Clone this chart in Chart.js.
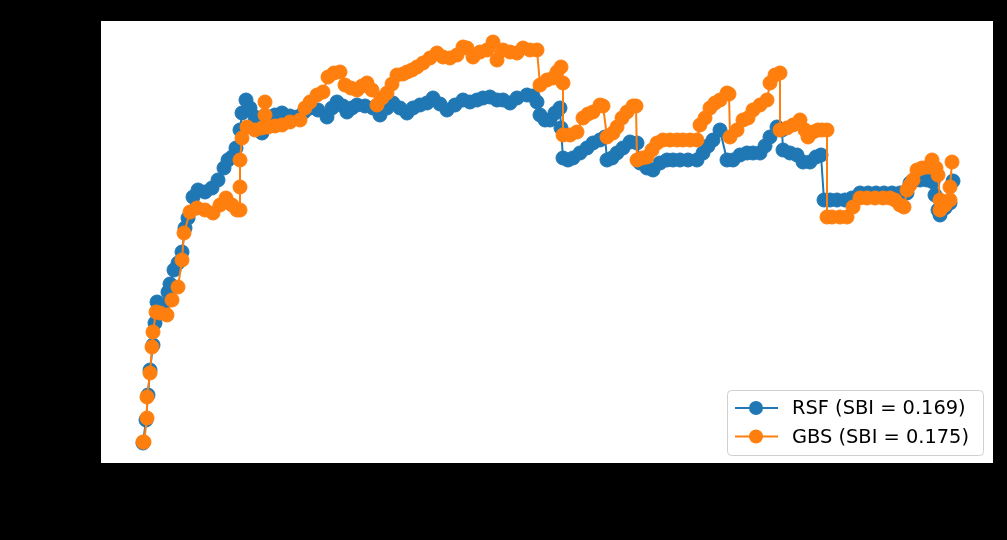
<!DOCTYPE html>
<html>
<head>
<meta charset="utf-8">
<title>RSF vs GBS</title>
<script src="https://cdn.jsdelivr.net/npm/chart.js@4.4.0/dist/chart.umd.min.js"></script>
<style>
  html, body { margin: 0; padding: 0; background: #000; }
  #wrap { width: 1007px; height: 540px; }
</style>
</head>
<body>
<div id="wrap"><canvas id="scoreChart" width="1007" height="540"></canvas></div>
<script>
'use strict';

// series names as shown in the legend
const seriesLabels = ['RSF (SBI = 0.169)', 'GBS (SBI = 0.175)'];

// RSF curve: time and score
const rsfDays = [
  1, 4, 6, 8, 11, 13, 15, 21, 26, 28, 32, 36, 40, 43, 46, 51, 56, 63, 70, 76,
  82, 86, 90, 94, 98, 100, 104, 108, 113, 120, 126, 133, 140, 148, 155, 162, 168, 176, 185, 190,
  195, 201, 205, 210, 215, 223, 231, 238, 245, 251, 258, 265, 271, 278, 285, 291, 298, 305, 313, 321,
  328, 335, 341, 348, 355, 361, 368, 375, 385, 391, 395, 398, 403, 408, 413, 418, 419, 421, 426, 431,
  438, 445, 451, 458, 463, 465, 470, 475, 481, 488, 495, 498, 505, 511, 518, 525, 531, 538, 546, 555,
  561, 566, 571, 578, 585, 591, 598, 605, 611, 618, 623, 628, 635, 640, 641, 648, 655, 661, 668, 674,
  679, 682, 688, 695, 703, 710, 718, 726, 734, 742, 750, 758, 765, 768, 773, 778, 785, 791, 793, 796,
  798, 803, 808, 811
];
const rsfScores = [
  0.520, 0.543, 0.568, 0.593, 0.618, 0.640, 0.661, 0.658, 0.671, 0.679, 0.693, 0.700, 0.711, 0.735, 0.745, 0.766, 0.773, 0.771, 0.775, 0.783,
  0.795, 0.803, 0.806, 0.815, 0.833, 0.850, 0.863, 0.855, 0.846, 0.830, 0.841, 0.848, 0.850, 0.847, 0.846, 0.851, 0.855, 0.853, 0.846, 0.855,
  0.861, 0.857, 0.851, 0.855, 0.858, 0.857, 0.855, 0.848, 0.855, 0.860, 0.855, 0.850, 0.855, 0.858, 0.860, 0.865, 0.859, 0.853, 0.858, 0.863,
  0.861, 0.863, 0.865, 0.866, 0.863, 0.863, 0.860, 0.865, 0.868, 0.867, 0.861, 0.848, 0.843, 0.843, 0.850, 0.855, 0.835, 0.805, 0.803, 0.805,
  0.810, 0.815, 0.820, 0.823, 0.826, 0.803, 0.805, 0.810, 0.815, 0.821, 0.820, 0.800, 0.795, 0.793, 0.800, 0.803, 0.803, 0.803, 0.803, 0.803,
  0.810, 0.817, 0.823, 0.833, 0.803, 0.803, 0.808, 0.810, 0.810, 0.810, 0.817, 0.826, 0.836, 0.833, 0.813, 0.810, 0.808, 0.801, 0.801, 0.806,
  0.808, 0.763, 0.763, 0.763, 0.763, 0.765, 0.770, 0.770, 0.770, 0.770, 0.770, 0.770, 0.770, 0.780, 0.783, 0.783, 0.783, 0.781, 0.768, 0.753,
  0.748, 0.755, 0.760, 0.782
];

// GBS curve: time and score
const gbsDays = [
  1, 2, 5, 5, 8, 10, 11, 14, 18, 25, 30, 36, 40, 42, 48, 55, 63, 71, 78, 84,
  90, 95, 98, 98, 98, 100, 105, 113, 120, 123, 123, 126, 133, 140, 148, 158, 163, 168, 175, 181,
  186, 192, 198, 203, 209, 215, 220, 225, 230, 235, 240, 245, 250, 255, 261, 265, 270, 275, 281, 288,
  295, 301, 308, 315, 321, 325, 331, 338, 345, 351, 355, 361, 368, 375, 381, 388, 395, 398, 405, 411,
  415, 419, 421, 421, 428, 435, 441, 446, 451, 458, 461, 465, 471, 475, 480, 485, 491, 494, 495, 500,
  505, 510, 515, 521, 528, 535, 541, 548, 555, 558, 563, 568, 573, 578, 585, 587, 588, 595, 601, 606,
  611, 618, 625, 628, 633, 638, 638, 645, 651, 658, 663, 666, 671, 676, 680, 685, 685, 690, 698, 705,
  711, 718, 725, 733, 741, 748, 753, 758, 762, 765, 768, 771, 775, 780, 786, 790, 794, 796, 798, 798,
  803, 808, 808, 810
];
const gbsScores = [
  0.521, 0.521, 0.545, 0.566, 0.590, 0.616, 0.631, 0.651, 0.650, 0.648, 0.663, 0.676, 0.703, 0.730, 0.751, 0.755, 0.753, 0.750, 0.758, 0.765,
  0.758, 0.753, 0.753, 0.776, 0.803, 0.825, 0.836, 0.833, 0.835, 0.848, 0.861, 0.836, 0.837, 0.838, 0.841, 0.843, 0.855, 0.861, 0.868, 0.871,
  0.886, 0.890, 0.891, 0.878, 0.875, 0.873, 0.877, 0.880, 0.873, 0.858, 0.865, 0.870, 0.879, 0.888, 0.889, 0.891, 0.893, 0.896, 0.900, 0.905,
  0.910, 0.906, 0.905, 0.908, 0.916, 0.915, 0.906, 0.911, 0.913, 0.921, 0.903, 0.913, 0.911, 0.910, 0.915, 0.913, 0.913, 0.878, 0.883, 0.885,
  0.891, 0.896, 0.880, 0.828, 0.828, 0.831, 0.845, 0.849, 0.851, 0.858, 0.857, 0.826, 0.830, 0.836, 0.845, 0.851, 0.857, 0.857, 0.803, 0.805,
  0.806, 0.813, 0.820, 0.823, 0.823, 0.823, 0.823, 0.823, 0.823, 0.838, 0.845, 0.855, 0.860, 0.863, 0.870, 0.869, 0.826, 0.833, 0.843, 0.845,
  0.853, 0.858, 0.863, 0.880, 0.888, 0.890, 0.833, 0.835, 0.838, 0.843, 0.833, 0.826, 0.831, 0.833, 0.833, 0.833, 0.746, 0.746, 0.746, 0.746,
  0.756, 0.765, 0.765, 0.765, 0.765, 0.765, 0.763, 0.758, 0.756, 0.773, 0.778, 0.783, 0.793, 0.795, 0.796, 0.803, 0.795, 0.788, 0.763, 0.753,
  0.758, 0.763, 0.776, 0.801
];

const BLUE = '#1f77b4';
const ORANGE = '#ff7f0e';

function toPoints(xs, ys) {
  return xs.map((x, i) => ({ x: x, y: ys[i] }));
}

// white axes box on the black page, with a thin frame
const plotBackground = {
  id: 'plotBackground',
  beforeDraw(chart) {
    const { ctx, chartArea: a } = chart;
    ctx.save();
    ctx.fillStyle = '#000';
    ctx.fillRect(0, 0, chart.width, chart.height);
    ctx.fillStyle = '#fff';
    ctx.fillRect(a.left, a.top, a.right - a.left, a.bottom - a.top);
    ctx.restore();
  },
  afterDraw(chart) {
    const { ctx, chartArea: a } = chart;
    ctx.save();
    ctx.strokeStyle = '#000';
    ctx.lineWidth = 1;
    ctx.strokeRect(a.left - 0.5, a.top - 0.5, a.right - a.left + 1, a.bottom - a.top + 1);
    ctx.restore();
  }
};

// matplotlib-like legend in the lower right corner of the axes
const cornerLegend = {
  id: 'cornerLegend',
  afterDraw(chart) {
    const { ctx, chartArea: a } = chart;
    const w = 256, h = 65;
    const x0 = a.right - 10 - w, y0 = a.bottom - 8 - h;
    ctx.save();
    ctx.beginPath();
    ctx.roundRect(x0 + 0.5, y0 + 0.5, w, h, 4);
    ctx.fillStyle = 'rgba(255,255,255,0.8)';
    ctx.fill();
    ctx.strokeStyle = '#d0d0d0';
    ctx.lineWidth = 1;
    ctx.stroke();

    ctx.font = '19.4px "DejaVu Sans"';
    ctx.textBaseline = 'middle';
    chart.data.datasets.forEach((ds, i) => {
      const cy = y0 + 18 + i * 28.5;
      ctx.strokeStyle = ds.borderColor;
      ctx.lineWidth = 2;
      ctx.beginPath();
      ctx.moveTo(x0 + 8, cy);
      ctx.lineTo(x0 + 51, cy);
      ctx.stroke();
      ctx.fillStyle = ds.borderColor;
      ctx.beginPath();
      ctx.arc(x0 + 29, cy, 7, 0, Math.PI * 2);
      ctx.fill();
      ctx.fillStyle = '#000';
      ctx.fillText(ds.label, x0 + 65, cy + 1);
    });
    ctx.restore();
  }
};

new Chart(document.getElementById('scoreChart'), {
  type: 'line',
  data: {
    datasets: [{
      label: seriesLabels[0],
      data: toPoints(rsfDays, rsfScores),
      borderColor: BLUE,
      backgroundColor: BLUE,
      pointBackgroundColor: BLUE,
      pointBorderColor: BLUE,
      borderWidth: 2,
      pointRadius: 7,
      pointBorderWidth: 1,
      tension: 0,
      order: 2
    }, {
      label: seriesLabels[1],
      data: toPoints(gbsDays, gbsScores),
      borderColor: ORANGE,
      backgroundColor: ORANGE,
      pointBackgroundColor: ORANGE,
      pointBorderColor: ORANGE,
      borderWidth: 2,
      pointRadius: 7,
      pointBorderWidth: 1,
      tension: 0,
      order: 1
    }]
  },
  options: {
    responsive: false,
    animation: false,
    devicePixelRatio: 1,
    layout: { padding: { left: 101, right: 14, top: 21, bottom: 77 } },
    plugins: {
      legend: { display: false },
      tooltip: { enabled: false }
    },
    scales: {
      x: { type: 'linear', min: -41, max: 851, display: false },
      y: { type: 'linear', min: 0.500, max: 0.942, display: false }
    }
  },
  plugins: [plotBackground, cornerLegend]
});
</script>
</body>
</html>
